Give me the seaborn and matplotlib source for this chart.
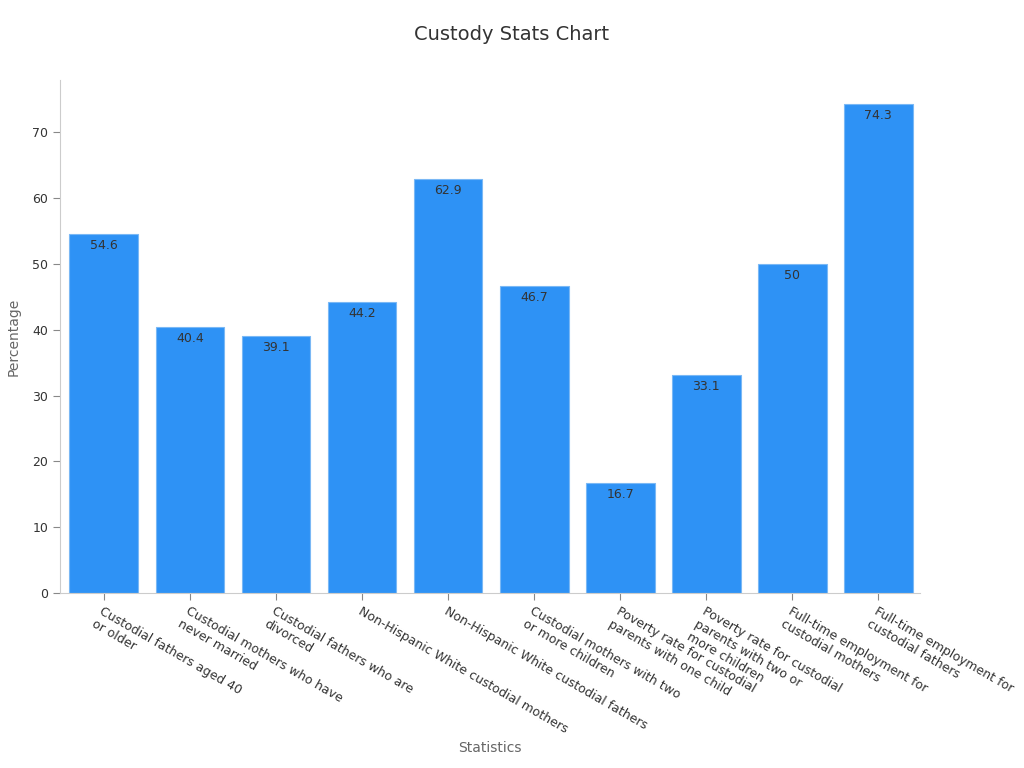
import pandas as pd
import matplotlib
matplotlib.use("Agg")
import matplotlib.pyplot as plt
import seaborn as sns

# dados do gráfico
categorias = [
    "Custodial fathers aged 40\nor older",
    "Custodial mothers who have\nnever married",
    "Custodial fathers who are\ndivorced",
    "Non-Hispanic White custodial mothers",
    "Non-Hispanic White custodial fathers",
    "Custodial mothers with two\nor more children",
    "Poverty rate for custodial\nparents with one child",
    "Poverty rate for custodial\nparents with two or\nmore children",
    "Full-time employment for\ncustodial mothers",
    "Full-time employment for\ncustodial fathers",
]
valores = [54.6, 40.4, 39.1, 44.2, 62.9, 46.7, 16.7, 33.1, 50, 74.3]
rotulos = ["54.6", "40.4", "39.1", "44.2", "62.9", "46.7", "16.7", "33.1", "50", "74.3"]

df = pd.DataFrame({"Statistics": categorias, "Percentage": valores})

sns.set_style("white")
plt.rcParams["font.family"] = ["DejaVu Sans"]

fig = plt.figure(figsize=(10.24, 7.68), dpi=100)
ax = fig.add_axes([0.0586, 0.228, 0.8394, 0.668])

sns.barplot(data=df, x="Statistics", y="Percentage", color="#2e92f5",
            edgecolor="#7ab8f5", linewidth=0.8, width=0.8, saturation=1, ax=ax)

for i, (v, r) in enumerate(zip(valores, rotulos)):
    ax.text(i, v - 0.8, r, ha="center", va="top", fontsize=9, color="#333333")

ax.set_ylim(0, 78)
ax.set_xlim(-0.51, 9.48)
ax.set_yticks([0, 10, 20, 30, 40, 50, 60, 70])

for lado in ["top", "right"]:
    ax.spines[lado].set_visible(False)
for lado in ["left", "bottom"]:
    ax.spines[lado].set_color("#cccccc")

ax.tick_params(axis="both", which="both", length=5, color="#888888",
               labelsize=9, labelcolor="#333333", left=True, bottom=True)
plt.setp(ax.get_xticklabels(), rotation=-30, ha="left", rotation_mode="anchor")

ax.set_xlabel("Statistics", fontsize=10, color="#666666", labelpad=4)
ax.set_ylabel("Percentage", fontsize=10, color="#666666", labelpad=8)
fig.suptitle("Custody Stats Chart", fontsize=14, color="#333333", y=0.968)

fig.savefig("out.png", dpi=100)
